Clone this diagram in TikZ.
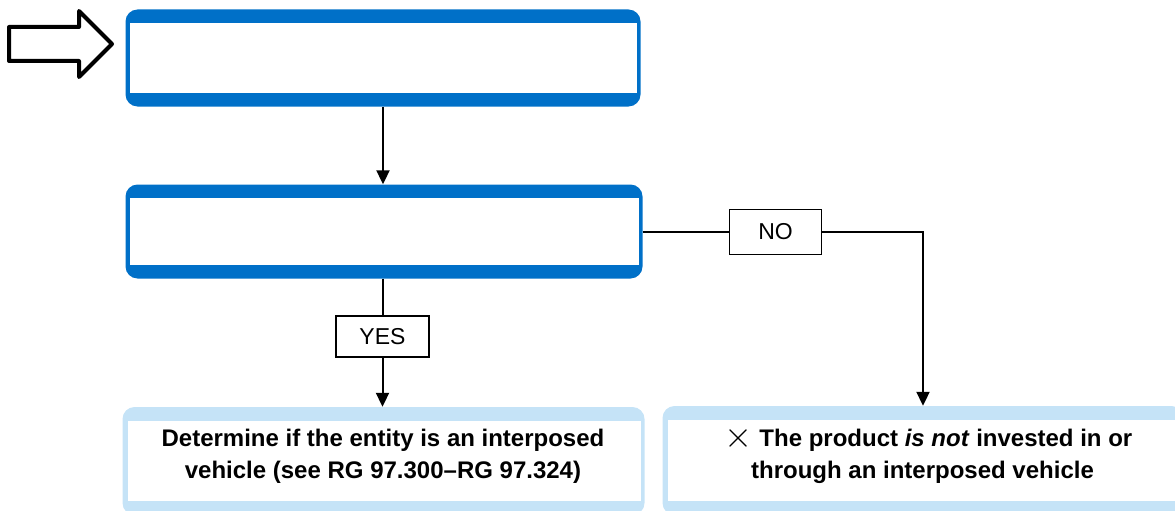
\documentclass[tikz,border=0pt]{standalone}
\usepackage{fontspec}
\setmainfont{Liberation Sans}
\usepackage{graphicx}
\usepackage{tikz}
\usetikzlibrary{arrows.meta}
\definecolor{custom_blue}{HTML}{0070C8}
\definecolor{custom_light}{HTML}{C5E3F7}

\begin{document}
\begin{tikzpicture}[x=1pt, y=-1pt,
    outerbox/.style={rectangle, rounded corners=12pt, inner sep=0pt},
    innerbox/.style={rectangle, fill=white, inner sep=0pt},
    answer/.style={draw, line width=1.5pt, fill=white, inner sep=0pt, font=\fontsize{23}{26}\selectfont},
    result/.style={align=center, font=\fontsize{24}{32}\selectfont\bfseries},
    line/.style={line width=2pt},
    >={Triangle[width=13pt,length=14pt]}]
                \useasboundingbox (0,0) rectangle (1175,511);

                % entry arrow
                \draw[line width=4pt, line join=round] (9,27) -- (79,27) -- (79,11) -- (112,44) -- (79,77) -- (79,61) -- (9,61) -- cycle;

                % question boxes
                \node[outerbox, fill=custom_blue, minimum width=515pt, minimum height=97pt] (start) at (383,58) {};
                \node[innerbox, minimum width=507pt, minimum height=70pt] at (383.5,58) {};

                \node[outerbox, fill=custom_blue, minimum width=517pt, minimum height=94pt] (check) at (384,231.5) {};
                \node[innerbox, minimum width=509pt, minimum height=67pt] at (384.5,231.5) {};

                % outcome boxes
                \node[outerbox, fill=custom_light, minimum width=522pt, minimum height=108pt] (detbox) at (383.5,461) {};
                \node[innerbox, minimum width=513pt, minimum height=80pt] at (384.2,461) {};
                \node[result] (det) at (383,456) {Determine if the entity is an interposed\\vehicle (see RG 97.300--RG 97.324)};

                \node[outerbox, fill=custom_light, minimum width=521pt, minimum height=109pt] (notbox) at (923,460.5) {};
                \node[innerbox, minimum width=511pt, minimum height=81pt] at (923,460.5) {};
                \node[result] (notinv) at (922.5,455) {\hspace{12pt}\raisebox{-1pt}{\scalebox{1.45}{$\times$}}\ The product \textit{is not} invested in or\\through an interposed vehicle};

                % answers
                \node[answer, minimum width=93pt, minimum height=41pt] (yes) at (382.5,336.5) {YES};
                \node[answer, minimum width=92pt, minimum height=45pt] (no) at (775.5,232) {NO};

                % connectors
                \draw[line, ->] (start.south) -- (start.south |- check.north);
                \draw[line] (yes |- check.south) -- (yes.north);
                \draw[line, ->] (yes.south) -- (yes |- detbox.north);
                \draw[line] (check.east |- no) -- (no.west);
                \draw[line, ->] (no.east) -| (notbox.north);
\end{tikzpicture}
\end{document}
